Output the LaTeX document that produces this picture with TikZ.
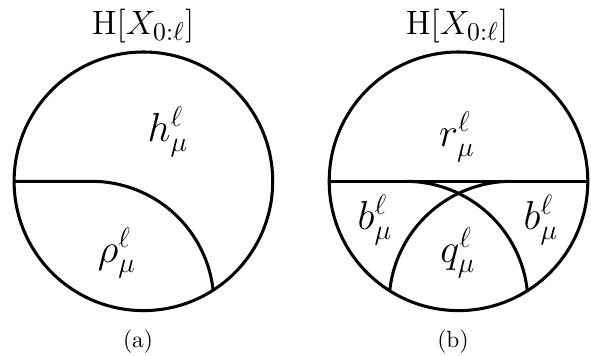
\documentclass[tikz,border=0pt]{standalone}
\usepackage{amsmath,amssymb}
\usepackage{tikz}
\tikzset{
  part/.style={line width=1.3pt, draw=black},
  mlbl/.style={font=\LARGE, inner sep=0pt},
  ttl/.style={font=\fontsize{15.5}{18}\selectfont, inner sep=0pt},
  sublbl/.style={font=\normalsize, inner sep=0pt},
}

\begin{document}
\begin{tikzpicture}[x=0.015cm, y=0.015cm]
  \useasboundingbox (0,0) rectangle (591,355);
  % (a): one cut
  \coordinate (ca) at (143.4,173.7);
  \coordinate (wa) at (14.1,173.7);
  \coordinate (ta) at (91.4,173.7);
  \begin{scope}
    \clip (ca) circle[radius=129.3];
    \draw[part] (wa) -- (ta) arc[start angle=90, end angle=-15, radius=122.5];
  \end{scope}
  \draw[part] (ca) circle[radius=129.3];
  \node[ttl] (Ha) at (143,329) {$\mathrm{H}[X_{0:\ell}]$};
  \node[mlbl] (ha) at (168,223) {$h^{\ell}_{\mu}$};
  \node[mlbl] (rhoa) at (117,102) {$\rho^{\ell}_{\mu}$};
  \node[sublbl] (suba) at (138,13) {(a)};
  % (b): two cuts
  \coordinate (cb) at (458.5,173.7);
  \coordinate (wb) at (329.2,173.7);
  \coordinate (eb) at (587.8,173.7);
  \coordinate (tl) at (405.5,173.7);
  \coordinate (tr) at (511.5,173.7);
  \begin{scope}
    \clip (cb) circle[radius=129.3];
    \draw[part] (wb) -- (eb);
    \draw[part] (tl) arc[start angle=90, end angle=-15, radius=122.5];
    \draw[part] (tr) arc[start angle=90, end angle=195, radius=122.5];
  \end{scope}
  \draw[part] (cb) circle[radius=129.3];
  \node[ttl] (Hb) at (457,329) {$\mathrm{H}[X_{0:\ell}]$};
  \node[mlbl] (rb) at (457,218) {$r^{\ell}_{\mu}$};
  \node[mlbl] (bl) at (375,135) {$b^{\ell}_{\mu}$};
  \node[mlbl] (br) at (541,135) {$b^{\ell}_{\mu}$};
  \node[mlbl] (qb) at (458,102) {$q^{\ell}_{\mu}$};
  \node[sublbl] (subb) at (453,13) {(b)};
\end{tikzpicture}
\end{document}
